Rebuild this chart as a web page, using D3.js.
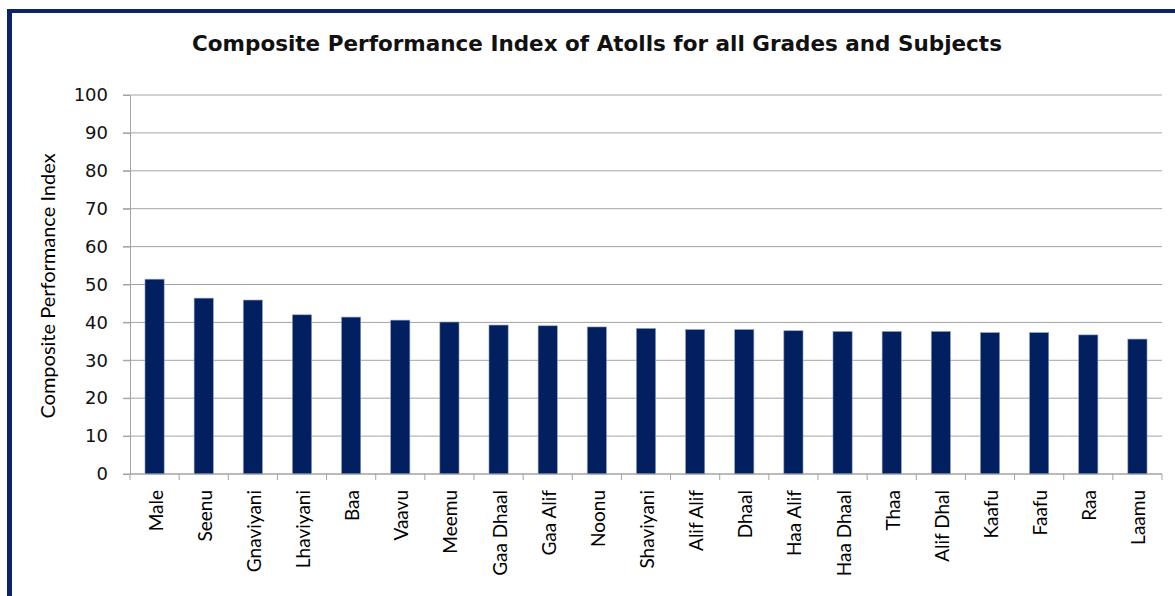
<!DOCTYPE html>
<html>
<head>
<meta charset="utf-8">
<script src="https://cdn.jsdelivr.net/npm/d3@7"></script>
<style>
    body { margin: 0; background: #fff; }
    #chart { display: block; }
    .y-axis text { font-family: "DejaVu Sans", sans-serif; font-size: 18px; fill: #111; }
    .x-axis-label { font-family: Lato, sans-serif; font-size: 19px; fill: #000; }
</style>
</head>
<body>
<svg id="chart"></svg>
<script>
// chart data
var atolls = ["Male", "Seenu", "Gnaviyani", "Lhaviyani", "Baa", "Vaavu", "Meemu", "Gaa Dhaal", "Gaa Alif", "Noonu",
    "Shaviyani", "Alif Alif", "Dhaal", "Haa Alif", "Haa Dhaal", "Thaa", "Alif Dhal", "Kaafu", "Faafu", "Raa", "Laamu"];
var cpiValues = [51.4, 46.4, 45.9, 42.0, 41.4, 40.6, 40.1, 39.3, 39.1, 38.8,
    38.4, 38.1, 38.1, 37.8, 37.6, 37.6, 37.6, 37.3, 37.3, 36.7, 35.6];
var yTicks = [0, 10, 20, 30, 40, 50, 60, 70, 80, 90, 100];

var svgWidth = 1175;
var svgHeight = 596;
var margin = { top: 95, right: 13, bottom: 122, left: 130 };
var chartWidth = svgWidth - margin.left - margin.right;
var chartHeight = svgHeight - margin.top - margin.bottom;

var svg = d3.select("#chart")
    .attr("width", svgWidth)
    .attr("height", svgHeight);

// dark frame on top and left
svg.append("line")
    .attr("x1", 7).attr("y1", 11).attr("x2", svgWidth).attr("y2", 11)
    .style("stroke", "#0a2466").style("stroke-width", 4);
svg.append("line")
    .attr("x1", 9.5).attr("y1", 9).attr("x2", 9.5).attr("y2", svgHeight)
    .style("stroke", "#0a2466").style("stroke-width", 5);

// title
svg.append("text")
    .attr("x", 597)
    .attr("y", 51)
    .attr("text-anchor", "middle")
    .style("font-family", "'DejaVu Sans', sans-serif")
    .style("font-weight", "bold")
    .style("font-size", "21.5px")
    .style("fill", "#111")
    .text("Composite Performance Index of Atolls for all Grades and Subjects");

var chart = svg.append("g")
    .attr("transform", "translate(" + margin.left + "," + margin.top + ")");

var xScale = d3.scaleBand()
    .range([0, chartWidth])
    .paddingInner(0.61)
    .paddingOuter(0.305)
    .domain(atolls);

var yScale = d3.scaleLinear()
    .range([chartHeight, 0])
    .domain([0, 100]);

// gridlines
chart.selectAll(".grid-line")
    .data(yTicks)
    .enter()
    .append("line")
    .attr("class", "grid-line")
    .attr("x1", -7)
    .attr("x2", chartWidth)
    .attr("y1", function (d) { return yScale(d); })
    .attr("y2", function (d) { return yScale(d); })
    .style("stroke", "#a3a3a3")
    .style("stroke-width", 1);

// y-axis
var yAxis = chart.append("g")
    .attr("class", "y-axis")
    .call(d3.axisLeft(yScale).tickValues(yTicks).tickSize(7).tickPadding(15));
yAxis.selectAll("line").style("stroke", "#a3a3a3");
yAxis.select(".domain").style("stroke", "#a3a3a3");

// bars
chart.selectAll(".bar")
    .data(atolls)
    .enter()
    .append("rect")
    .attr("class", "bar")
    .attr("x", function (d) { return xScale(d); })
    .attr("y", function (d, i) { return yScale(cpiValues[i]); })
    .attr("width", xScale.bandwidth())
    .attr("height", function (d, i) { return chartHeight - yScale(cpiValues[i]); })
    .style("fill", "#022060")
    .style("stroke", "#8a9cc4")
    .style("stroke-width", 0.6);

// x-axis line and category ticks
chart.append("line")
    .attr("x1", 0).attr("y1", chartHeight)
    .attr("x2", chartWidth).attr("y2", chartHeight)
    .style("stroke", "#a3a3a3").style("stroke-width", 1);

var step = xScale.step();
chart.selectAll(".x-tick")
    .data(d3.range(atolls.length + 1))
    .enter()
    .append("line")
    .attr("class", "x-tick")
    .attr("x1", function (d) { return d * step; })
    .attr("x2", function (d) { return d * step; })
    .attr("y1", chartHeight)
    .attr("y2", chartHeight + 6)
    .style("stroke", "#a3a3a3");

// x labels, rotated
chart.selectAll(".x-axis-label")
    .data(atolls)
    .enter()
    .append("text")
    .attr("class", "x-axis-label")
    .attr("transform", function (d) {
        return "translate(" + (xScale(d) + xScale.bandwidth() / 2 + 8) + "," + (chartHeight + 16) + ") rotate(-90)";
    })
    .attr("text-anchor", "end")
    .text(function (d) { return d; });

// y-axis title
chart.append("text")
    .attr("transform", "rotate(-90)")
    .attr("x", -(286 - margin.top))
    .attr("y", 55 - margin.left)
    .attr("text-anchor", "middle")
    .style("font-family", "Lato, sans-serif")
    .style("font-size", "20px")
    .text("Composite Performance Index");
</script>
</body>
</html>
